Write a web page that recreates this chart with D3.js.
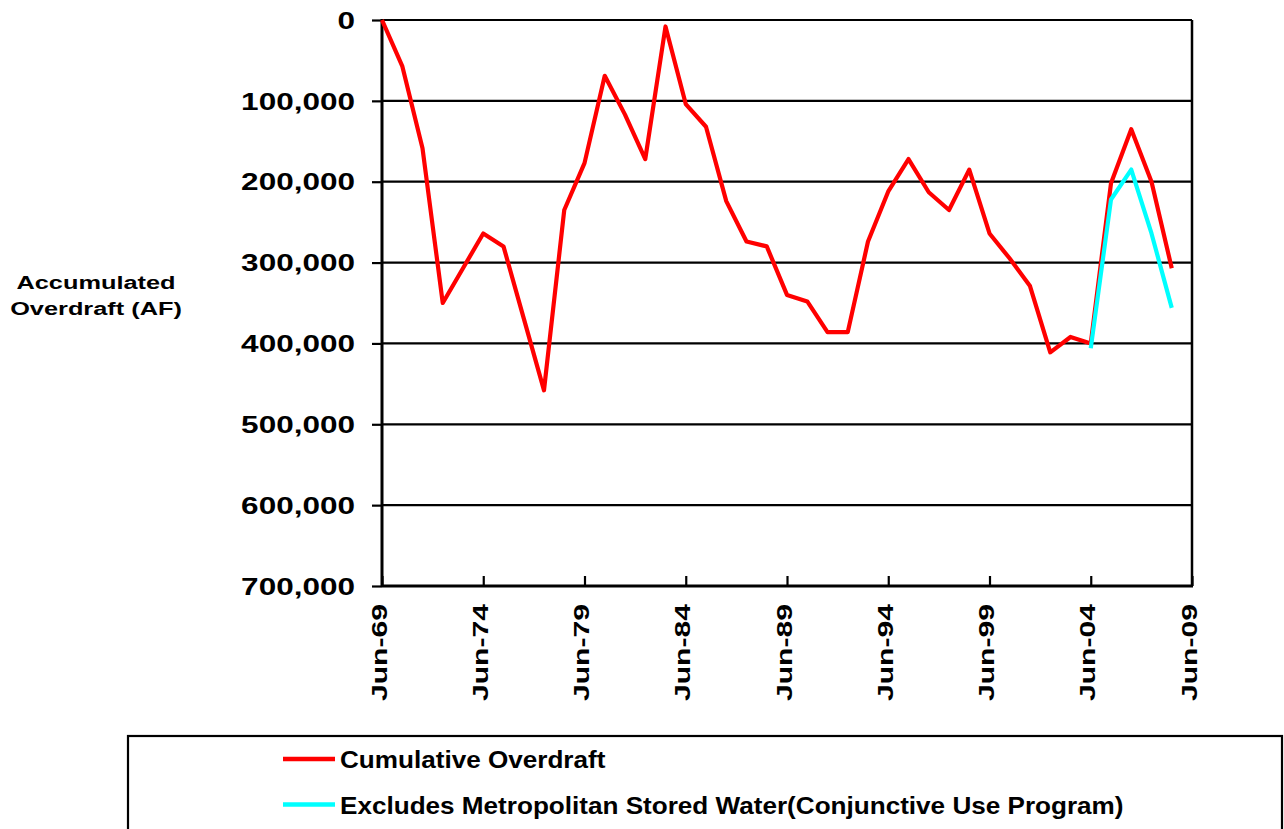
<!DOCTYPE html>
<html><head><meta charset="utf-8">
<script src="https://cdn.jsdelivr.net/npm/d3@7"></script>
<style>
body{margin:0;background:#fff}
svg{display:block}
text{font-family:"Liberation Sans",Arial,sans-serif;font-weight:bold;fill:#000}
</style>
</head><body>
<svg id="chart" width="1284" height="829"></svg>
<script>
// ---- data ----
const years = [1969,1970,1971,1972,1973,1974,1975,1976,1977,1978,1979,1980,1981,1982,1983,1984,1985,1986,1987,1988,1989,1990,1991,1992,1993,1994,1995,1996,1997,1998,1999,2000,2001,2002,2003,2004,2005,2006,2007,2008];
const cumulativeOverdraft = [0,57000,158600,350000,307000,264000,280000,369000,458000,235000,177000,69000,117000,172000,8000,104000,132000,224000,274000,280000,340000,348000,386000,386000,274000,212000,172000,213000,235000,185000,264000,295000,329000,411000,392000,400000,202000,135000,200000,307000];
const metYears = [2004,2005,2006,2007,2008];
const excludesMetStored = [406000,222000,185000,264000,356000];
const yTickValues = [0,100000,200000,300000,400000,500000,600000,700000];
const xTickYears = [1969,1974,1979,1984,1989,1994,1999,2004,2009];
const xTickLabels = ["Jun-69","Jun-74","Jun-79","Jun-84","Jun-89","Jun-94","Jun-99","Jun-04","Jun-09"];
const seriesNames = ["Cumulative Overdraft","Excludes Metropolitan Stored Water(Conjunctive Use Program)"];
const seriesColors = ["#ff0000","#00ffff"];
const yTitle = ["Accumulated","Overdraft (AF)"];

// ---- layout ----
const svg = d3.select("#chart");
const P = {left:382, right:1192, top:20, bottom:586};
const x = d3.scaleLinear().domain([1969,2009]).range([P.left,P.right]);
const y = d3.scaleLinear().domain([0,700000]).range([P.top,P.bottom]);
const fmt = d3.format(",");

// gridlines
svg.append("g").selectAll("line").data(yTickValues.filter(v=>v<700000)).join("line")
  .attr("x1",P.left).attr("x2",P.right)
  .attr("y1",d=>y(d)).attr("y2",d=>y(d))
  .attr("stroke","#000").attr("stroke-width",2.2);

// right border
svg.append("line").attr("x1",P.right).attr("x2",P.right).attr("y1",P.top).attr("y2",P.bottom)
  .attr("stroke","#000").attr("stroke-width",2.5);

// y axis
const yAxis = svg.append("g").attr("transform",`translate(${P.left},0)`)
  .call(d3.axisLeft(y).tickValues(yTickValues).tickSize(10).tickSizeOuter(0).tickFormat(fmt));
yAxis.select(".domain").remove();
yAxis.selectAll(".tick line").attr("stroke","#000").attr("stroke-width",2.2);
yAxis.selectAll(".tick text").attr("x",0).attr("dy","0.36em")
  .attr("transform","translate(-27,0) scale(1.37,1)")
  .style("font-size","23px").attr("fill","#000");

// x axis
const xAxis = svg.append("g").attr("transform",`translate(0,${P.bottom})`)
  .call(d3.axisBottom(x).tickValues(xTickYears).tickSize(-10).tickSizeOuter(0)
    .tickFormat((d,i)=>xTickLabels[i]));
xAxis.select(".domain").remove();
xAxis.selectAll(".tick line").attr("stroke","#000").attr("stroke-width",2.2);
xAxis.selectAll(".tick text").attr("y",0).attr("dy",0)
  .attr("text-anchor","end")
  .attr("transform","translate(4,18) rotate(-90) scale(1.37,1)")
  .style("font-size","22px").attr("fill","#000");

// axis lines
svg.append("line").attr("x1",P.left).attr("x2",P.left).attr("y1",P.top-1).attr("y2",P.bottom+1)
  .attr("stroke","#000").attr("stroke-width",3);
svg.append("line").attr("x1",P.left).attr("x2",P.right+1).attr("y1",P.bottom).attr("y2",P.bottom)
  .attr("stroke","#000").attr("stroke-width",3);

// y title
svg.append("g").selectAll("text").data(yTitle).join("text")
  .attr("text-anchor","middle")
  .attr("transform",(d,i)=>`translate(96,${289+i*26}) scale(1.37,1)`)
  .style("font-size","18.5px").text(d=>d);

// lines
const line = d3.line().x(d=>x(d[0])).y(d=>y(d[1]));
svg.append("path").datum(years.map((yr,i)=>[yr,cumulativeOverdraft[i]]))
  .attr("d",line).attr("fill","none").attr("stroke",seriesColors[0])
  .attr("stroke-width",4.2).attr("stroke-linejoin","round");
svg.append("path").datum(metYears.map((yr,i)=>[yr,excludesMetStored[i]]))
  .attr("d",line).attr("fill","none").attr("stroke",seriesColors[1])
  .attr("stroke-width",4.2).attr("stroke-linejoin","round");

// legend
const lg = svg.append("g");
lg.append("rect").attr("x",128).attr("y",736).attr("width",1154).attr("height",130)
  .attr("fill","#fff").attr("stroke","#000").attr("stroke-width",2.2);
const items = lg.selectAll("g.item").data(seriesNames).join("g").attr("class","item")
  .attr("transform",(d,i)=>`translate(0,${759+i*45.5})`);
items.append("line").attr("x1",283).attr("x2",335).attr("y1",0).attr("y2",0)
  .attr("stroke",(d,i)=>seriesColors[i]).attr("stroke-width",4.5);
items.append("text").attr("transform","translate(340,9) scale(1.135,1)")
  .style("font-size","23px").text(d=>d);
</script>
</body></html>
